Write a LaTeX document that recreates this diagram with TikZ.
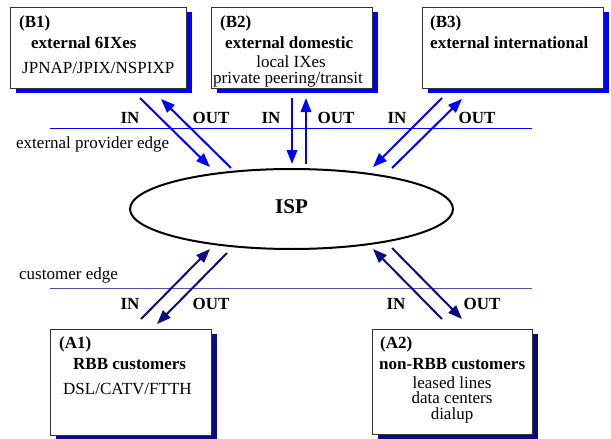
\documentclass[tikz,border=0pt]{standalone}
\usepackage{fontspec}
\setmainfont{Liberation Serif}
\usetikzlibrary{arrows.meta,shadows,shapes.geometric}
\definecolor{navyA}{RGB}{10,10,130}
\definecolor{edgeA}{RGB}{80,80,170}
\definecolor{boxline}{RGB}{50,50,50}
\begin{document}
\begin{tikzpicture}[x=1pt,y=-1pt,
  every node/.style={inner sep=0pt},
  font=\fontsize{17}{16}\selectfont,
  box/.style={draw=boxline, line width=1pt, fill=white},
  topbox/.style={box, general shadow={fill=blue, shadow xshift=6pt, shadow yshift=-5pt}},
  botbox/.style={box, general shadow={fill=navyA, shadow xshift=6pt, shadow yshift=-5pt}},
  txt/.style={anchor=base west},
  ctxt/.style={anchor=base},
  bold/.style={font=\fontsize{17}{16}\selectfont\bfseries},
  toparrow/.style={draw=blue, line width=2pt, -{Triangle[length=14pt,width=10.5pt]}},
  botarrow/.style={draw=navyA, line width=2pt, -{Triangle[length=14pt,width=10.5pt]}}]
\useasboundingbox (0,0) rectangle (611,439);

% boxes
\node[topbox, minimum width=176pt, minimum height=81pt] (B1) at (98,47.5) {};
\node[topbox, minimum width=161pt, minimum height=81pt] (B2) at (291.5,47.5) {};
\node[topbox, minimum width=181pt, minimum height=81pt] (B3) at (512.5,47.5) {};
\node[botbox, minimum width=161pt, minimum height=106pt] (A1) at (130.5,382) {};
\node[botbox, minimum width=160pt, minimum height=105pt] (A2) at (452,381.5) {};

% box texts
\node[txt, bold] (b1a) at (19,27.5) {(B1)};
\node[txt, bold] (b1b) at (31,48) {external 6IXes};
\node[txt] (b1c) at (22,73) {JPNAP/JPIX/NSPIXP};

\node[txt, bold] (b2a) at (220,27.5) {(B2)};
\node[txt, bold] (b2b) at (225,48) {external domestic};
\node[ctxt] (b2c) at (291,67) {local IXes};
\node[txt] (b2d) at (213,83) {private peering/transit};

\node[txt, bold] (b3a) at (430,27.5) {(B3)};
\node[txt, bold] (b3b) at (430,48) {external international};

\node[txt, bold] (a1a) at (59,348) {(A1)};
\node[txt, bold] (a1b) at (73,369) {RBB customers};
\node[txt] (a1c) at (63,394) {DSL/CATV/FTTH};

\node[txt, bold] (a2a) at (380,348) {(A2)};
\node[txt, bold] (a2b) at (379,369) {non-RBB customers};
\node[ctxt] (a2c) at (452,388) {leased lines};
\node[ctxt] (a2d) at (452,403.5) {data centers};
\node[ctxt] (a2e) at (452,419.5) {dialup};

% ISP
\node[draw, ellipse, line width=2pt, minimum width=323pt, minimum height=80pt] (isp) at (291.5,209) {};
\node[ctxt, font=\fontsize{21}{24}\selectfont\bfseries] (ispl) at (291.5,213) {ISP};

% edges
\coordinate (tl) at (50,128);
\coordinate (tr) at (532,128);
\coordinate (bl) at (50,288);
\coordinate (br) at (532,288);
\draw[blue, line width=1pt] (tl) -- (tr);
\draw[edgeA, line width=1pt] (bl) -- (br);
\node[txt] (epe) at (16,148) {external provider edge};
\node[txt] (ce) at (19,279) {customer edge};

% IN/OUT labels
\node[ctxt, bold] (l1) at (130,123) {IN};
\node[ctxt, bold] (l2) at (211,123) {OUT};
\node[ctxt, bold] (l3) at (271,123) {IN};
\node[ctxt, bold] (l4) at (336,123) {OUT};
\node[ctxt, bold] (l5) at (397,123) {IN};
\node[ctxt, bold] (l6) at (477,123) {OUT};
\node[ctxt, bold] (l7) at (130,309) {IN};
\node[ctxt, bold] (l8) at (211,309) {OUT};
\node[ctxt, bold] (l9) at (396,309) {IN};
\node[ctxt, bold] (l10) at (482,309) {OUT};

% arrow end points
\coordinate (b1ins) at (140,98);  \coordinate (b1ine) at (210,167);
\coordinate (b1outs) at (231,168); \coordinate (b1oute) at (161,99);
\coordinate (b2ins) at (292,98);  \coordinate (b2ine) at (292,164);
\coordinate (b2outs) at (306,164); \coordinate (b2oute) at (306,98);
\coordinate (b3ins) at (442,98);  \coordinate (b3ine) at (373,167);
\coordinate (b3outs) at (392,168); \coordinate (b3oute) at (462,99);
\coordinate (a1ins) at (141,319); \coordinate (a1ine) at (210,249);
\coordinate (a1outs) at (227,253); \coordinate (a1oute) at (157,324);
\coordinate (a2ins) at (442,319); \coordinate (a2ine) at (373,249);
\coordinate (a2outs) at (392,248); \coordinate (a2oute) at (462,319);

\draw[toparrow] (b1ins) -- (b1ine);
\draw[toparrow] (b1outs) -- (b1oute);
\draw[toparrow] (b2ins) -- (b2ine);
\draw[toparrow] (b2outs) -- (b2oute);
\draw[toparrow] (b3ins) -- (b3ine);
\draw[toparrow] (b3outs) -- (b3oute);
\draw[botarrow] (a1ins) -- (a1ine);
\draw[botarrow] (a1outs) -- (a1oute);
\draw[botarrow] (a2ins) -- (a2ine);
\draw[botarrow] (a2outs) -- (a2oute);
\end{tikzpicture}
\end{document}
